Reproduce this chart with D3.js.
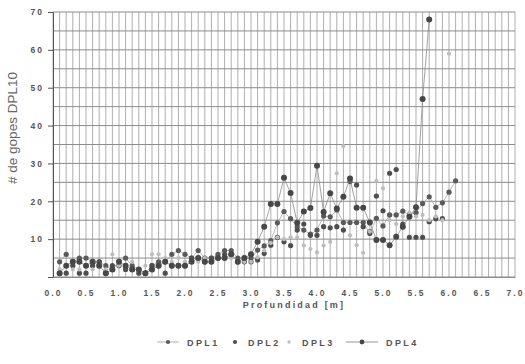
<!DOCTYPE html>
<html>
<head>
<meta charset="utf-8">
<script src="https://cdn.jsdelivr.net/npm/d3@7"></script>
<style>
  body { margin: 0; background: #fff; }
  text { font-family: "Liberation Sans", Arial, sans-serif; }
</style>
</head>
<body>
<svg id="chart" width="525" height="364"></svg>
<script>
// depth of each reading [m]
const depths = [
  0.1, 0.2, 0.3, 0.4, 0.5, 0.6, 0.7, 0.8, 0.9, 1.0,
  1.1, 1.2, 1.3, 1.4, 1.5, 1.6, 1.7, 1.8, 1.9, 2.0,
  2.1, 2.2, 2.3, 2.4, 2.5, 2.6, 2.7, 2.8, 2.9, 3.0,
  3.1, 3.2, 3.3, 3.4, 3.5, 3.6, 3.7, 3.8, 3.9, 4.0,
  4.1, 4.2, 4.3, 4.4, 4.5, 4.6, 4.7, 4.8, 4.9, 5.0,
  5.1, 5.2, 5.3, 5.4, 5.5, 5.6, 5.7, 5.8, 5.9, 6.0,
  6.1
];

// blow counts (null = no reading)
const dpl1 = [
  4, 6, 4, 5, 5, 4, 4, 3, 2, 4,
  5, 3, 2, 1, 3, 4, 4, 6, 7, 6,
  5, 7, 5, 5, 6, 7, 7, 5, 5, 5,
  7.1, 8.2, 9.6, 14.3, 17.3, 15.4, 13.3, 12.4, 11.3, 12.4,
  16.1, 15.9, 17.7, 14.4, 14.4, 14.4, 14.4, 11.5, 15.5, 13.5,
  16.4, 16.4, 17.4, 16.4, 17, 19.4, 21.2, 18.4, 19.6, 22.4,
  25.4
];
const dpl2 = [
  1, 1, 3, 1, 1, 3, 4, 1, 3, 3,
  2, 2, 1, 1, 3, 3, 1, 3, 3, 3,
  5, 5, 4, 5, 5, 6, 6, 4, 4, 4,
  4.5, 6.2, 8.4, 10.5, 9.3, 8.3, 12.4, 14, 11, 11,
  13.3, 13, 13.3, 12.4, 25.2, 24.3, 13.3, 12, 21.4, 17.5,
  27.4, 28.4, 14, 10.5, 10.5, 10.5, 14.6, 15.4, 15.4, null,
  null
];
const dpl3 = [
  2, 3, 2, 2, 3, 2, 3, 2, 6, 3,
  3, 4, 2, 3, 6, 6, 5, 4, 5, 4,
  4, 4, 5, 4, 5, 5, 5, 4, 4, 4,
  5.2, 7, 9, 10.5, 10, 10.5, 10.5, 8.3, 7.4, 6.5,
  8.3, 9.3, 27.4, 34.6, 11, 8.4, 6.4, 12, 25.4, 23.4,
  15, 14, 16, 17, 16, 16.4, 15, 16, 15, 59,
  null
];
const dpl4 = [
  1, 3, 4, 4, 3, 4, 3, 1, 2, 4,
  3, 2, 2, 1, 2, 3, 4, 3, 3, 3,
  4, 5, 4, 4, 5, 5, 6, 4, 5, 6,
  9.3, 13.3, 19.3, 19.3, 26.2, 22.2, 14.3, 17.3, 18.2, 29.4,
  17.2, 22.1, 18.1, 21.2, 26, 18.3, 18.3, 14.4, 9.8, 9.8,
  8.4, 10.6, 13.3, 15.9, 18.4, 47, 68, null, null, null,
  null
];

const xTicks = [0, 0.5, 1, 1.5, 2, 2.5, 3, 3.5, 4, 4.5, 5, 5.5, 6, 6.5, 7];
const yTicks = [10, 20, 30, 40, 50, 60, 70];

const series = [
  {name: 'DPL1', values: dpl1, line: '#a8a8a8', dot: '#5a5a5a', r: 2.6, lw: 22},
  {name: 'DPL2', values: dpl2, line: null, dot: '#4e4e4e', r: 2.6, lw: 10},
  {name: 'DPL3', values: dpl3, line: null, dot: '#bdbdbd', r: 2.1, lw: 10},
  {name: 'DPL4', values: dpl4, line: '#8a8a8a', dot: '#474747', r: 3, lw: 32},
];

const svg = d3.select('#chart');
const m = {left: 53, right: 515, top: 12, bottom: 277};

const x = d3.scaleLinear().domain([0, 7]).range([m.left, m.right]);
const y = d3.scaleLinear().domain([0, 70]).range([m.bottom, m.top]);

// grid: vertical every 0.1 m, horizontal every 5 blows
const grid = svg.append('g');
grid.selectAll('line.v')
  .data(d3.range(0, 71).map(i => i / 10))
  .join('line')
  .attr('x1', d => x(d)).attr('x2', d => x(d))
  .attr('y1', m.top).attr('y2', m.bottom)
  .attr('stroke', '#a6a6a6').attr('stroke-width', 0.9);
grid.selectAll('line.h')
  .data(d3.range(0, 71, 5))
  .join('line')
  .attr('x1', m.left).attr('x2', m.right)
  .attr('y1', d => y(d)).attr('y2', d => y(d))
  .attr('stroke', '#8c8c8c').attr('stroke-width', 1);

const tickStyle = g => {
  g.select('.domain').attr('stroke', '#555');
  g.selectAll('.tick line').attr('stroke', '#555');
  g.selectAll('.tick text')
    .attr('fill', '#555')
    .attr('font-size', '8.5px')
    .attr('font-weight', 'bold')
    .attr('letter-spacing', '2px');
};

svg.append('g')
  .attr('transform', `translate(${m.left},0)`)
  .call(d3.axisLeft(y).tickValues(yTicks).tickSize(5).tickPadding(4).tickFormat(d3.format('d')))
  .call(tickStyle);

svg.append('g')
  .attr('transform', `translate(0,${m.bottom})`)
  .call(d3.axisBottom(x).tickValues(xTicks).tickSize(0).tickPadding(13).tickFormat(d3.format('.1f')))
  .call(tickStyle)
  .call(g => g.select('.domain').attr('stroke', '#8c8c8c'));

// series
series.forEach(s => {
  const pts = depths.map((d, i) => [d, s.values[i]]).filter(p => p[1] != null);
  if (s.line) {
    svg.append('path')
      .datum(pts)
      .attr('fill', 'none')
      .attr('stroke', s.line)
      .attr('stroke-width', 0.8)
      .attr('d', d3.line().x(p => x(p[0])).y(p => y(p[1])));
  }
  svg.append('g').selectAll('circle')
    .data(pts)
    .join('circle')
    .attr('cx', p => x(p[0]))
    .attr('cy', p => y(p[1]))
    .attr('r', s.r)
    .attr('fill', s.dot);
});

// axis titles
svg.append('text')
  .attr('x', 294).attr('y', 308)
  .attr('text-anchor', 'middle')
  .attr('font-size', '9px').attr('font-weight', 'bold')
  .attr('letter-spacing', '2.2px').attr('fill', '#555')
  .text('Profundidad [m]');

svg.append('text')
  .attr('transform', 'translate(17,128) rotate(-90)')
  .attr('text-anchor', 'middle')
  .attr('font-size', '13.5px').attr('fill', '#666')
  .text('# de gopes DPL10');

// legend
const legendY = 342;
const legendX = [157, 230, 284, 346];
const lg = svg.append('g');
series.forEach((s, i) => {
  const g = lg.append('g').attr('transform', `translate(${legendX[i]},${legendY})`);
  if (s.line) {
    g.append('line').attr('x1', 0).attr('x2', s.lw).attr('y1', 0).attr('y2', 0)
      .attr('stroke', s.line).attr('stroke-width', 0.9);
  }
  g.append('circle').attr('cx', s.lw / 2).attr('cy', 0).attr('r', s.r * 0.8).attr('fill', s.dot);
  g.append('text')
    .attr('x', s.lw + 8).attr('y', 3.5)
    .attr('font-size', '9px').attr('font-weight', 'bold')
    .attr('letter-spacing', '2.4px').attr('fill', '#555')
    .text(s.name);
});
</script>
</body>
</html>
